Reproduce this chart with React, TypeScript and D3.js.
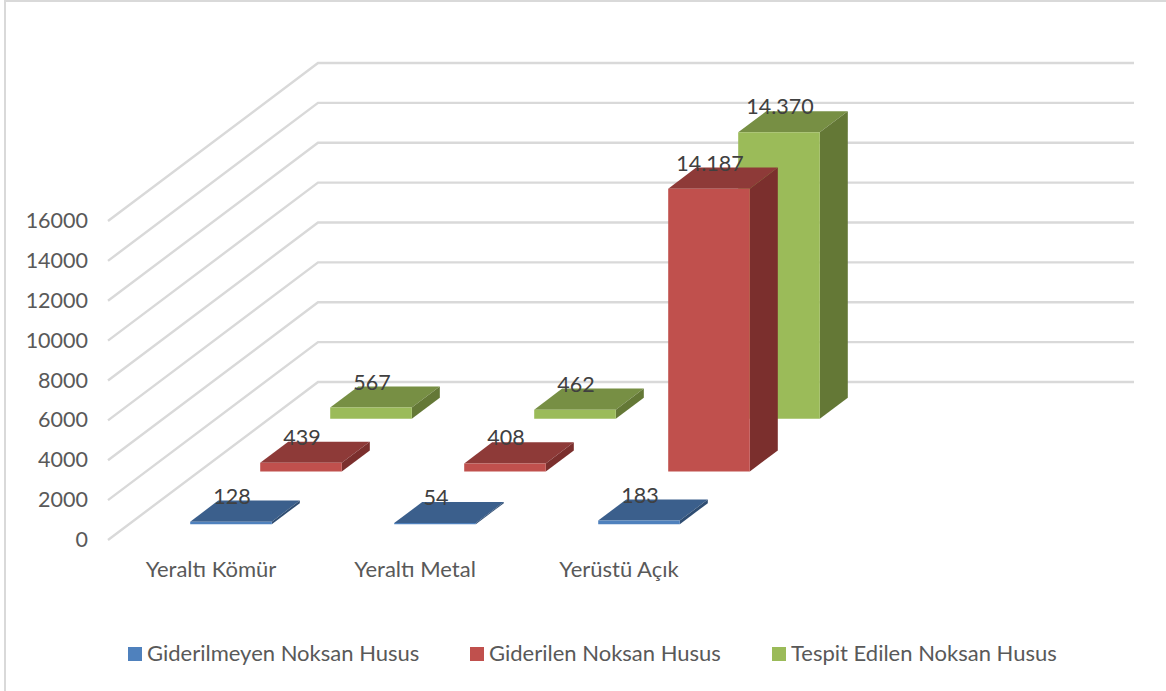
import React from 'react';
import * as d3 from 'd3';

const categories = ['Yeraltı Kömür', 'Yeraltı Metal', 'Yerüstü Açık', ''];
const seriesNames = ['Giderilmeyen Noksan Husus', 'Giderilen Noksan Husus', 'Tespit Edilen Noksan Husus'];
const giderilmeyen = [128, 54, 183];
const giderilen = [439, 408, 14187];
const tespitEdilen = [567, 462, 14370];
const seriesValues = [giderilmeyen, giderilen, tespitEdilen];
const valueLabels = [
  ['128', '54', '183'],
  ['439', '408', '14.187'],
  ['567', '462', '14.370'],
];
const yTicks = [0, 2000, 4000, 6000, 8000, 10000, 12000, 14000, 16000];

const frontColors = ['#4f81bd', '#c0504d', '#9bbb59'];
const topColors = ['#3b5f8c', '#8e3a38', '#778f44'];
const sideColors = ['#2f4d72', '#7b2f2d', '#647836'];
const legendX = [128, 470, 772];

const width = 1166;
const height = 691;
const font = 'Lato, "Open Sans", sans-serif';
const gridColor = '#d9d9d9';
const textColor = '#595959';

// front-left corner of the floor and how far the depth axis runs on screen
const originX = 108;
const originY = 540;
const depthDx = 210;
const depthDy = -158;

const x = d3.scaleBand<string>().domain(categories).range([0, 816]).paddingInner(0).paddingOuter(0);
const y = d3.scaleLinear().domain([0, 16000]).range([0, 319]);
const z = d3.scaleBand<string>().domain(seriesNames).range([0, 1]);

const barInset = 0.3;
const barW = x.bandwidth() * 0.4;
const barD = z.bandwidth() * 0.4;

// oblique projection: px along the category axis, value, depth fraction
const project = (px: number, value: number, depth: number): [number, number] => [
  originX + px + depth * depthDx,
  originY - y(value) + depth * depthDy,
];

const poly = (pts: [number, number][]) => pts.map((p) => p.join(',')).join(' ');

export default function App() {
  const wallRight = x.range()[1];
  return (
    <svg
      width={width}
      height={height}
      viewBox={`0 0 ${width} ${height}`}
      style={{ position: 'absolute', left: 0, top: 0, background: '#fff' }}
    >
      {/* only the top and left edges of the frame are in the picture */}
      <polyline points="5,691 5,1 1166,1" fill="none" stroke={gridColor} strokeWidth={2} />

      {yTicks.map((t) => {
        const a = project(0, t, 0);
        const b = project(0, t, 1);
        const c = project(wallRight, t, 1);
        return (
          <g key={t}>
            <polyline points={poly([a, b, c])} fill="none" stroke={gridColor} strokeWidth={2.4} />
            <text x={88} y={a[1] + 7} textAnchor="end" fontFamily={font} fontSize={21.5} fill={textColor}>
              {t}
            </text>
          </g>
        );
      })}

      {/* back row first so the nearer bars paint over it */}
      {seriesNames
        .map((name, s) => ({ name, s }))
        .reverse()
        .map(({ name, s }) =>
          seriesValues[s].map((v, i) => {
            const x0 = x(categories[i])! + x.bandwidth() * barInset;
            const x1 = x0 + barW;
            const z0 = z(name)! + z.bandwidth() * barInset;
            const z1 = z0 + barD;
            return (
              <g key={`${s}-${i}`}>
                <polygon
                  points={poly([project(x0, v, z0), project(x1, v, z0), project(x1, v, z1), project(x0, v, z1)])}
                  fill={topColors[s]}
                />
                <polygon
                  points={poly([project(x1, 0, z0), project(x1, v, z0), project(x1, v, z1), project(x1, 0, z1)])}
                  fill={sideColors[s]}
                />
                <polygon
                  points={poly([project(x0, 0, z0), project(x1, 0, z0), project(x1, v, z0), project(x0, v, z0)])}
                  fill={frontColors[s]}
                />
              </g>
            );
          }),
        )}

      {seriesNames.map((name, s) =>
        seriesValues[s].map((v, i) => {
          const x0 = x(categories[i])! + x.bandwidth() * barInset;
          const z0 = z(name)! + z.bandwidth() * barInset;
          const p = project(x0 + barW / 2, v, z0);
          return (
            <text
              key={`${s}-${i}-label`}
              x={p[0] + 1}
              y={p[1] - 18}
              textAnchor="middle"
              fontFamily={font}
              fontSize={21.5}
              fill="#404040"
            >
              {valueLabels[s][i]}
            </text>
          );
        }),
      )}

      {categories.map((c) => (
        <text
          key={c}
          x={originX + x(c)! + x.bandwidth() / 2 + 1}
          y={577}
          textAnchor="middle"
          fontFamily={font}
          fontSize={22}
          fill={textColor}
        >
          {c}
        </text>
      ))}

      {seriesNames.map((name, s) => (
        <g key={name}>
          <rect x={legendX[s]} y={647} width={14} height={14} fill={frontColors[s]} />
          <text x={legendX[s] + 19} y={661} fontFamily={font} fontSize={22} fill={textColor}>
            {name}
          </text>
        </g>
      ))}
    </svg>
  );
}
